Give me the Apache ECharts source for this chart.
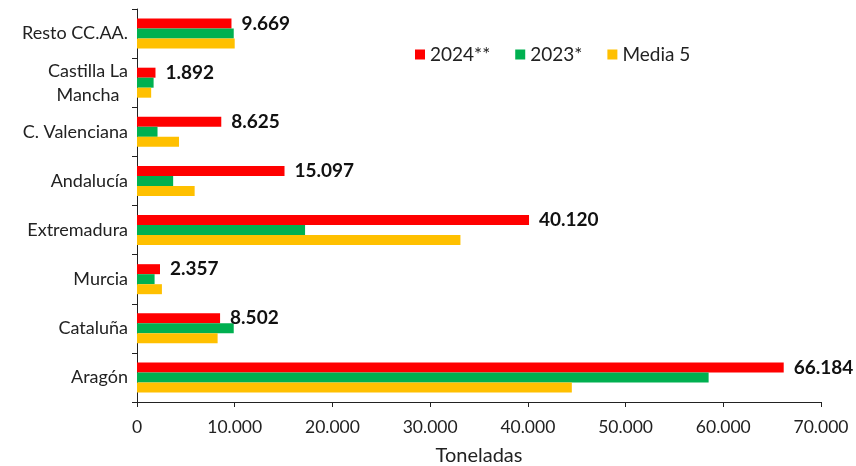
<!DOCTYPE html>
<html><head><meta charset="utf-8">
<script src="https://cdn.jsdelivr.net/npm/echarts@6/dist/echarts.min.js"></script>
<style>html,body{margin:0;padding:0;background:#fff}#c{width:856px;height:466px}</style>
</head><body><div id="c"></div>
<script>
const categories = ['Aragón', 'Cataluña', 'Murcia', 'Extremadura', 'Andalucía', 'C. Valenciana', 'Castilla La\nMancha', 'Resto CC.AA.'];
const s2024 = [66184, 8502, 2357, 40120, 15097, 8625, 1892, 9669];
const s2023 = [58500, 9900, 1800, 17200, 3700, 2100, 1700, 9900];
const sMedia5 = [44500, 8250, 2550, 33100, 5900, 4300, 1450, 10000];
const xTicks = [0, 10000, 20000, 30000, 40000, 50000, 60000, 70000];

const fmt = v => String(v).replace(/\B(?=(\d{3})+(?!\d))/g, '.');
const FONT = 'Lato';
const chart = echarts.init(document.getElementById('c'));
chart.setOption({
  animation: false,
  textStyle: { fontFamily: FONT },
  grid: { left: 137, right: 35, top: 9, bottom: 64, containLabel: false, outerBoundsMode: 'none' },
  legend: {
    data: ['2024**', '2023*', 'Media 5'],
    left: 410, top: 40,
    itemWidth: 10, itemHeight: 10, itemGap: 25,
    icon: 'rect',
    textStyle: { fontFamily: FONT, fontSize: 19, color: '#222' }
  },
  xAxis: {
    type: 'value', min: xTicks[0], max: xTicks[xTicks.length - 1], interval: 10000,
    name: 'Toneladas', nameLocation: 'middle', nameGap: 44,
    nameTextStyle: { fontFamily: FONT, fontSize: 20, color: '#222' },
    axisLine: { show: true, lineStyle: { color: '#222', width: 1 } },
    axisTick: { show: true, length: 5, lineStyle: { color: '#222' } },
    axisLabel: { margin: 16, fontSize: 17.5, color: '#222', fontFamily: FONT, formatter: v => fmt(v) },
    splitLine: { show: false }
  },
  yAxis: {
    type: 'category', data: categories,
    axisLine: { show: true, lineStyle: { color: '#222', width: 1 } },
    axisTick: { show: true, length: 5, lineStyle: { color: '#222' } },
    axisLabel: {
      margin: 9, fontSize: 18, color: '#222', fontFamily: FONT, lineHeight: 24,
      formatter: v => v.split('\n').map(s => '{c|' + s + '}').join('\n'),
      rich: { c: { fontSize: 18, fontFamily: FONT, color: '#222', lineHeight: 24, align: 'center' } }
    }
  },
  series: [
    { name: '2024**', type: 'bar', data: s2024, barWidth: 10, barGap: '0%', itemStyle: { color: '#FF0000' },
      label: { show: true, position: 'right', distance: 10, fontSize: 19, fontWeight: 'bold', color: '#111', fontFamily: FONT, formatter: p => fmt(p.value) } },
    { name: '2023*', type: 'bar', data: s2023, barWidth: 10, barGap: '0%', itemStyle: { color: '#00B050' } },
    { name: 'Media 5', type: 'bar', data: sMedia5, barWidth: 10, barGap: '0%', itemStyle: { color: '#FFC000' } }
  ]
});
</script></body></html>
